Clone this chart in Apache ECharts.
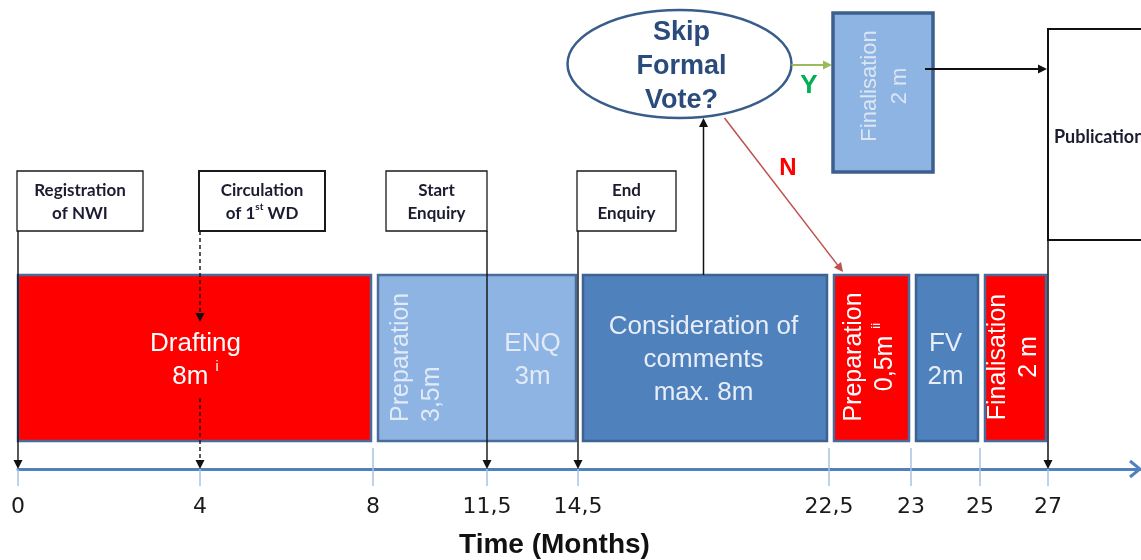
<!doctype html>
<html lang="en">
<head>
<meta charset="utf-8" />
<title>Standard development timeline</title>
<script src="https://cdn.jsdelivr.net/npm/echarts@6.0.0/dist/echarts.min.js"></script>
<style>
    html, body { margin: 0; padding: 0; background: #fff; }
    #chart { width: 1141px; height: 560px; }
</style>
</head>
<body>
<div id="chart"></div>
<script type="text/javascript">
    // ticks of the time axis (months) and how they are printed
    const tickMonths = [0, 4, 8, 11.5, 14.5, 22.5, 23, 25, 27];
    const tickLabels = ['0', '4', '8', '11,5', '14,5', '22,5', '23', '25', '27'];

    // phases on the timeline
    const phaseFrom = [0, 8, 14.5, 22.5, 23, 25];
    const phaseTo = [8, 14.5, 22.5, 23, 25, 27];
    const phaseKind = ['red', 'light', 'blue', 'red', 'blue', 'red'];

    // texts inside the phase boxes (the enquiry box carries two)
    const textFrom = [0, 8, 11.5, 14.5, 22.5, 23, 25];
    const textTo = [8, 11.5, 14.5, 22.5, 23, 25, 27];
    const textLines = ['Drafting\n8m {s|i}', 'Preparation\n3,5m', 'ENQ\n3m', 'Consideration of\ncomments\nmax. 8m',
        'Preparation\n0,5m {s|ii}', 'FV\n2m', 'Finalisation\n2 m'];
    const textVertical = [false, true, false, false, true, false, true];

    // milestones
    const milestoneMonths = [0, 4, 11.5, 14.5];
    const milestoneNames = ['Registration\nof NWI', 'Circulation\nof 1{s|st} WD', 'Start\nEnquiry', 'End\nEnquiry'];
    const milestoneDashed = [false, true, false, false];

    // phase boundaries that also get a tick above the axis
    const phaseBounds = [8, 22.5, 23, 25];

    // decision after the comments phase
    const decisionText = 'Skip\nFormal\nVote?';
    const skipText = 'Finalisation\n2 m';
    const endText = 'Publication';

    // ---- layout (the time axis is schematic, not to scale) ----
    const tickPos = [18, 200, 373, 487, 578, 829, 911, 980, 1048];
    const ROW = { labelTop: 171, labelBottom: 231, boxTop: 275, boxBottom: 441, textMid: 360, axis: 469 };
    const milestoneBoxW = [126, 126, -101, 99];
    const KIND = {
        red: { fill: '#FF0000', stroke: '#4A6A9A', text: '#FFFFFF' },
        light: { fill: '#8EB4E3', stroke: '#4A6C9B', text: '#E1EAF6' },
        blue: { fill: '#4F81BD', stroke: '#3C6394', text: '#E8EEF7' }
    };
    const SANS = 'Liberation Sans';

    // month -> position along the schematic axis
    let mx = function (m) {
        for (let i = 0; i < tickMonths.length - 1; i++) {
            if (m <= tickMonths[i + 1]) {
                let t = (m - tickMonths[i]) / (tickMonths[i + 1] - tickMonths[i]);
                return tickPos[i] + t * (tickPos[i + 1] - tickPos[i]);
            }
        }
        return tickPos[tickPos.length - 1];
    };

    let arrow = function (p1, p2, color, width, dash) {
        let ang = Math.atan2(p2[1] - p1[1], p2[0] - p1[0]);
        let L = 9, W = 4.5;
        let bx = p2[0] - L * Math.cos(ang), by = p2[1] - L * Math.sin(ang);
        let nx = -Math.sin(ang) * W, ny = Math.cos(ang) * W;
        return [
            { type: 'line', shape: { x1: p1[0], y1: p1[1], x2: bx, y2: by },
              style: { stroke: color, lineWidth: width, lineDash: dash ? [4, 3] : null } },
            { type: 'polygon', shape: { points: [[p2[0], p2[1]], [bx + nx, by + ny], [bx - nx, by - ny]] },
              style: { fill: color } }
        ];
    };

    let sup = function (size, color, weight, family) {
        return { s: { fontSize: size, fill: color, fontWeight: weight, fontFamily: family, verticalAlign: 'top', lineHeight: 18 } };
    };

    let kindOf = function (month) {
        for (let p = 0; p < phaseFrom.length; p++) {
            if (month >= phaseFrom[p] && month < phaseTo[p]) return phaseKind[p];
        }
        return 'red';
    };

    // phase boxes
    let renderPhase = function (params, api) {
        let i = params.dataIndex;
        let from = api.value(0), to = api.value(1);
        let a = api.coord([mx(from), ROW.boxTop]);
        let b = api.coord([mx(to), ROW.boxBottom]);
        let left = a[0] + (from > 0 ? 5 : 0), right = b[0] - 2;
        let k = KIND[phaseKind[i]];
        return {
            type: 'rect',
            shape: { x: left, y: a[1], width: right - left, height: b[1] - a[1] },
            style: { fill: k.fill, stroke: k.stroke, lineWidth: 2.5 }
        };
    };

    // texts in the phase boxes
    let renderText = function (params, api) {
        let i = params.dataIndex;
        let from = api.value(0), to = api.value(1);
        let k = KIND[kindOf(from)];
        let cx = (mx(from) + mx(to)) / 2;
        let c = api.coord([cx, ROW.textMid]);
        if (!textVertical[i]) {
            return {
                type: 'text', x: c[0], y: c[1],
                style: { text: textLines[i], fill: k.text, fontFamily: SANS, fontSize: 26, lineHeight: 33,
                         align: 'center', verticalAlign: 'middle', rich: sup(14, k.text, 'normal', SANS) }
            };
        }
        // the enquiry box text sits low and to the left
        let bottom = kindOf(from) === 'light';
        let p = bottom ? api.coord([cx - 13, ROW.boxBottom - 19]) : api.coord([cx, ROW.textMid - 3]);
        return {
            type: 'text', x: p[0], y: p[1], rotation: Math.PI / 2,
            style: { text: textLines[i], fill: k.text, fontFamily: SANS, fontSize: 25, lineHeight: 31,
                     align: bottom ? 'left' : 'center', verticalAlign: 'middle', rich: sup(13, k.text, 'normal', SANS) }
        };
    };

    // milestone label boxes and their arrows to the axis
    let renderMilestone = function (params, api) {
        let i = params.dataIndex;
        let m = api.value(0);
        let top = api.coord([mx(m), ROW.labelTop]);
        let bot = api.coord([mx(m), ROW.labelBottom]);
        let ax = api.coord([mx(m), ROW.axis]);
        let w = milestoneBoxW[i];
        let x0 = w > 0 ? top[0] - 1 : top[0] + w;
        let children = [
            { type: 'rect', shape: { x: x0, y: top[1], width: Math.abs(w), height: bot[1] - top[1] },
              style: { fill: '#fff', stroke: '#1a1a1a', lineWidth: i === 1 ? 2 : 1.3 } },
            { type: 'text', x: x0 + Math.abs(w) / 2, y: (top[1] + bot[1]) / 2 + 1,
              style: { text: milestoneNames[i], fill: '#1c1c30', fontFamily: 'Lato', fontWeight: 'bold', fontSize: 17,
                       lineHeight: 23, align: 'center', verticalAlign: 'middle', rich: sup(10, '#1c1c30', 'bold', 'Lato') } }
        ];
        if (milestoneDashed[i]) {
            children = children.concat(
                arrow(bot, api.coord([mx(m), 322]), '#111', 1.4, true),
                arrow(api.coord([mx(m), 398]), ax, '#111', 1.4, true));
        } else {
            children = children.concat(arrow(bot, ax, '#111', 1.4, false));
        }
        return { type: 'group', children: children };
    };

    // phase boundary ticks above the axis
    let renderBound = function (params, api) {
        let a = api.coord([mx(api.value(0)), ROW.boxBottom + 7]);
        let b = api.coord([mx(api.value(0)), ROW.axis]);
        return { type: 'line', shape: { x1: a[0], y1: a[1], x2: b[0], y2: b[1] },
                 style: { stroke: '#A9C2E0', lineWidth: 1.5 } };
    };

    // decision ellipse, skip branch, publication
    let renderDecision = function (params, api) {
        let ux = mx(api.value(0));
        let e = { cx: ux - 24, cy: 64, rx: 112, ry: 54 };
        let c = api.coord([e.cx, e.cy]);
        let boxL = mx(22.5) + 4, boxR = boxL + 100;
        let bTop = api.coord([boxL, 13]), bBot = api.coord([boxR, 172]);
        let pubX = mx(27);
        let pTop = api.coord([pubX, 29]), pBot = api.coord([pubX + 130, 240]);
        let axEnd = api.coord([1140, ROW.axis]);
        let k = 0.5523;
        let children = [];
        children = children.concat(arrow(api.coord([ux, ROW.boxTop]), api.coord([ux, e.cy + e.ry]), '#111', 1.5, false));
        children.push({
            type: 'path',
            shape: {
                pathData: 'M0,1 C0,' + (1 - k) + ' ' + (1 - k) + ',0 1,0 C' + (1 + k) + ',0 2,' + (1 - k) + ' 2,1 C2,' + (1 + k) + ' ' +
                    (1 + k) + ',2 1,2 C' + (1 - k) + ',2 0,' + (1 + k) + ' 0,1 Z',
                x: c[0] - e.rx, y: c[1] - e.ry, width: 2 * e.rx, height: 2 * e.ry, layout: 'cover'
            },
            style: { fill: '#fff', stroke: '#385D8A', lineWidth: 2.5 }
        });
        children.push({
            type: 'text', x: c[0] + 2, y: c[1] + 3,
            style: { text: decisionText, fill: '#2A4B7C', fontFamily: SANS, fontWeight: 'bold', fontSize: 27,
                     lineHeight: 34, align: 'center', verticalAlign: 'middle' }
        });
        // N branch
        children = children.concat(arrow(api.coord([e.cx + 45, e.cy + e.ry]), api.coord([mx(22.5) + 14, ROW.boxTop - 3]), '#C0504D', 1.5, false));
        children.push({ type: 'text', x: api.coord([788, 0])[0], y: api.coord([0, 168])[1],
            style: { text: 'N', fill: '#FF0000', fontFamily: SANS, fontWeight: 'bold', fontSize: 24, align: 'center', verticalAlign: 'middle' } });
        // Y branch
        children = children.concat(arrow(api.coord([e.cx + e.rx, 65]), api.coord([boxL - 1, 65]), '#9BBB59', 2, false));
        children.push({ type: 'text', x: api.coord([809, 0])[0], y: api.coord([0, 86])[1],
            style: { text: 'Y', fill: '#00B050', fontFamily: SANS, fontWeight: 'bold', fontSize: 26, align: 'center', verticalAlign: 'middle' } });
        children.push({ type: 'rect', shape: { x: bTop[0], y: bTop[1], width: bBot[0] - bTop[0], height: bBot[1] - bTop[1] },
            style: { fill: '#8EB4E3', stroke: '#3D5F8D', lineWidth: 3.5 } });
        let st = api.coord([(boxL + boxR) / 2 + 2, 86]);
        children.push({ type: 'text', x: st[0], y: st[1], rotation: Math.PI / 2,
            style: { text: skipText, fill: '#DCE6F2', fontFamily: SANS, fontSize: 22, lineHeight: 30, align: 'center', verticalAlign: 'middle' } });
        children = children.concat(arrow(api.coord([boxR - 8, 69]), api.coord([pubX - 1, 69]), '#111', 2, false));
        // publication
        children.push({ type: 'rect', shape: { x: pTop[0], y: pTop[1], width: pBot[0] - pTop[0], height: pBot[1] - pTop[1] },
            style: { fill: '#fff', stroke: '#111', lineWidth: 2 } });
        children.push({ type: 'text', x: pTop[0] + 6, y: api.coord([0, 137])[1],
            style: { text: endText, fill: '#1c1c30', fontFamily: 'Lato', fontWeight: 'bold', fontSize: 18, align: 'left', verticalAlign: 'middle' } });
        children = children.concat(arrow([pTop[0], pBot[1]], api.coord([pubX, ROW.axis]), '#111', 1.5, false));
        // open arrow head closing the time axis
        children.push({ type: 'polyline', shape: { points: [[axEnd[0] - 10, axEnd[1] - 8], axEnd, [axEnd[0] - 10, axEnd[1] + 8]] },
            style: { stroke: '#4F81BD', lineWidth: 3, fill: null } });
        return { type: 'group', children: children };
    };

    let chart = echarts.init(document.getElementById('chart'));
    let option = {
        animation: false,
        backgroundColor: '#fff',
        grid: { left: 18, right: 0, top: 0, bottom: 560 - ROW.axis, outerBoundsMode: 'none' },
        xAxis: {
            type: 'value', min: 18, max: 1141, position: 'bottom',
            splitLine: { show: false },
            axisLine: { onZero: false, lineStyle: { color: '#4F81BD', width: 3 } },
            axisTick: { customValues: tickPos, length: 17, lineStyle: { color: '#A9C2E0', width: 1.5 } },
            axisLabel: {
                customValues: tickPos,
                formatter: function (v) { return tickLabels[tickPos.indexOf(v)]; },
                fontFamily: 'DejaVu Sans', fontSize: 22, color: '#1a1a1a', margin: 27
            },
            name: 'Time (Months)', nameLocation: 'middle', nameGap: 62, nameMoveOverlap: false,
            nameTextStyle: { fontFamily: SANS, fontWeight: 'bold', fontSize: 28, color: '#111', padding: [0, 50, 0, 0] }
        },
        yAxis: { type: 'value', min: 0, max: ROW.axis, inverse: true, show: false },
        series: [
            { type: 'custom', name: 'phases', renderItem: renderPhase,
              data: phaseFrom.map(function (f, i) { return [f, phaseTo[i]]; }) },
            { type: 'custom', name: 'bounds', renderItem: renderBound, data: phaseBounds.map(function (b) { return [b]; }) },
            { type: 'custom', name: 'phase text', renderItem: renderText,
              data: textFrom.map(function (f, i) { return [f, textTo[i]]; }) },
            { type: 'custom', name: 'milestones', renderItem: renderMilestone,
              data: milestoneMonths.map(function (m) { return [m]; }) },
            { type: 'custom', name: 'decision', renderItem: renderDecision,
              data: [[(phaseFrom[2] + phaseTo[2]) / 2]] }
        ]
    };
    chart.setOption(option);
</script>
</body>
</html>
